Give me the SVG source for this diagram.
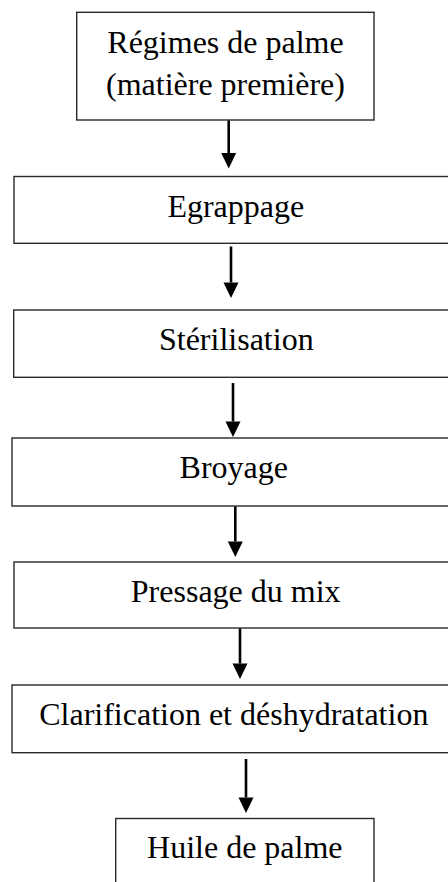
<svg xmlns="http://www.w3.org/2000/svg" width="448" height="882" viewBox="0 0 448 882">
<style>
.box{fill:#fff;stroke:#2a2a2a;stroke-width:1.4}
.lbl{font-family:"Liberation Serif","Times New Roman",serif;font-size:32px;fill:#000;text-anchor:middle}
.arr{stroke:#000;stroke-width:2.6;fill:none;marker-end:url(#ah)}
</style>
<defs>
<marker id="ah" markerUnits="userSpaceOnUse" markerWidth="16" markerHeight="16" refX="0" refY="0" orient="auto" overflow="visible">
<path d="M0,-7.5 L15.5,0 L0,7.5 Z" fill="#000"/>
</marker>
</defs>
<rect width="448" height="882" fill="#fff"/>
<g id="n1"><rect class="box" x="76.7" y="12.3" width="297.3" height="107.7"/><text class="lbl" x="225.5" y="53.3">Régimes de palme</text><text class="lbl" x="225.5" y="95">(matière première)</text></g>
<g id="n2"><rect class="box" x="14" y="176.5" width="444" height="66.8"/><text class="lbl" x="235.8" y="216.7">Egrappage</text></g>
<g id="n3"><rect class="box" x="13.7" y="310" width="444" height="67.3"/><text class="lbl" x="236.3" y="350">Stérilisation</text></g>
<g id="n4"><rect class="box" x="12" y="438" width="444" height="68"/><text class="lbl" x="233.8" y="478.3">Broyage</text></g>
<g id="n5"><rect class="box" x="14" y="562" width="444" height="66"/><text class="lbl" x="235.7" y="601.7">Pressage du mix</text></g>
<g id="n6"><rect class="box" x="12" y="685" width="444" height="67.7"/><text class="lbl" x="233.8" y="725">Clarification et déshydratation</text></g>
<g id="n7"><rect class="box" x="115.7" y="818.5" width="258.3" height="80"/><text class="lbl" x="244.8" y="858">Huile de palme</text></g>
<g id="connectors">
<line class="arr" x1="228.7" y1="120.5" x2="228.7" y2="153"/>
<line class="arr" x1="231" y1="246.5" x2="231" y2="282.5"/>
<line class="arr" x1="233" y1="383" x2="233" y2="421.5"/>
<line class="arr" x1="235.3" y1="506.5" x2="235.3" y2="541.5"/>
<line class="arr" x1="240" y1="628.5" x2="240" y2="663.5"/>
<line class="arr" x1="246" y1="759" x2="246" y2="797.5"/>
</g>
</svg>
